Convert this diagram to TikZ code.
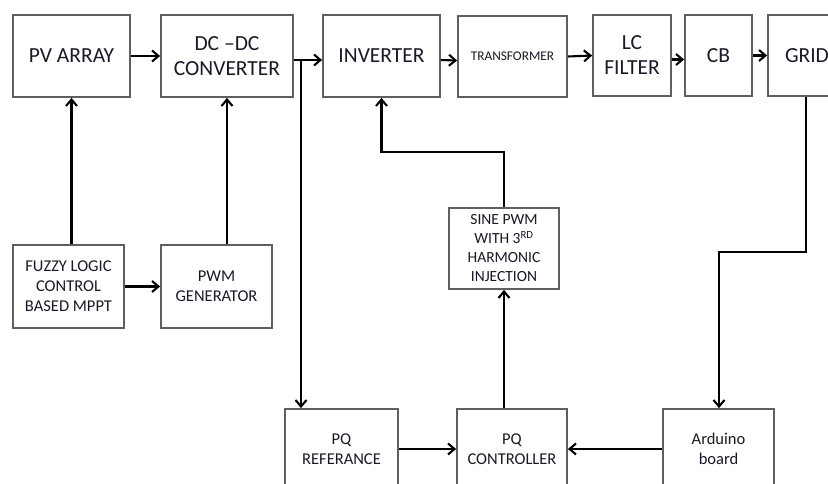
\documentclass[tikz,border=0pt]{standalone}
\usepackage{fontspec}
\setmainfont{Carlito}
\usetikzlibrary{arrows.meta,calc}
\definecolor{boxgray}{RGB}{95,95,95}
\definecolor{txt}{RGB}{25,25,40}
\begin{document}
\begin{tikzpicture}[x=1pt,y=-1pt,
  blk/.style={draw=boxgray,line width=1.8pt,fill=white,inner sep=0pt,align=center,text=txt},
  big/.style={font=\fontsize{21.5}{25}\selectfont},
  mid/.style={font=\fontsize{16.5}{20}\selectfont},
  sml/.style={font=\fontsize{15.5}{19}\selectfont},
  arr/.style={line width=2.1pt,-{Straight Barb[length=6.5pt,width=11pt]}},
  ln/.style={line width=2.1pt}]
\useasboundingbox (0,0) rectangle (828,483);
\begin{scope}
\clip (0,0) rectangle (828,483);
% top row
\node[blk,big,minimum width=117pt,minimum height=82pt] (pv) at (71.5,56) {PV ARRAY};
\node[blk,big,minimum width=132pt,minimum height=82pt] (dc) at (227,56) {DC –DC\\CONVERTER};
\node[blk,big,minimum width=117pt,minimum height=82pt] (inv) at (381.5,56) {INVERTER};
\node[blk,font=\fontsize{13.3}{16}\selectfont,minimum width=109pt,minimum height=81pt] (tr) at (512.5,56.5) {TRANSFORMER};
\node[blk,big,minimum width=78pt,minimum height=81pt] (lc) at (632,55.5) {LC\\FILTER};
\node[blk,big,minimum width=67pt,minimum height=81pt] (cb) at (718.5,55.5) {CB};
\node[blk,big,minimum width=78pt,minimum height=81pt] (grid) at (807,55.5) {GRID};
% middle
\node[blk,mid,minimum width=111pt,minimum height=83pt] (fz) at (68.5,286.5) {FUZZY LOGIC\\CONTROL\\BASED MPPT};
\node[blk,mid,minimum width=111pt,minimum height=83pt] (pwm) at (216.5,286.5) {PWM\\GENERATOR};
\node[blk,sml,minimum width=110pt,minimum height=81pt] (sine) at (504,248.5) {SINE PWM\\WITH 3\textsuperscript{RD}\\HARMONIC\\INJECTION};
% bottom
\node[blk,mid,minimum width=113pt,minimum height=80pt] (pqr) at (341.5,449) {PQ\\REFERANCE};
\node[blk,mid,minimum width=110pt,minimum height=80pt] (pqc) at (512,449) {PQ\\CONTROLLER};
\node[blk,mid,minimum width=111pt,minimum height=80pt] (ard) at (718.5,449) {Arduino\\board};
\end{scope}
% top row connectors
\draw[arr] (pv.east) -- (dc.west);
\draw[arr] ([yshift=-4pt]dc.east) -- ([yshift=-4pt]inv.west);
\draw[arr] ([yshift=-4pt]inv.east) -- ([yshift=-4pt]tr.west);
\draw[arr] (tr.east) -- (lc.west);
\draw[arr] ([yshift=-4pt]lc.east) -- ([yshift=-4pt]cb.west);
\draw[arr] (cb.east) -- (grid.west);
% branch to PQ reference
\coordinate (br) at (301,60);
\draw[arr] (br) -- (br |- pqr.north);
% MPPT side
\draw[arr] (pv.south |- fz.north) -- (pv.south);
\draw[arr] (fz) -- (pwm);
\draw[arr] (dc.south |- pwm.north) -- (dc.south);
% sine PWM to inverter
\coordinate (k1) at (0,152);
\draw[arr] (sine.north) |- (k1 -| inv.south) -- (inv.south);
\draw[arr] (sine.south |- pqc.north) -- (sine.south);
% bottom connections
\draw[arr] (pqr) -- (pqc);
\draw[arr] (ard) -- (pqc);
% grid to arduino
\coordinate (k2) at (719,252);
\draw[arr] ([xshift=-1pt]grid.south) |- (k2) -- (k2 |- ard.north);
\end{tikzpicture}
\end{document}
